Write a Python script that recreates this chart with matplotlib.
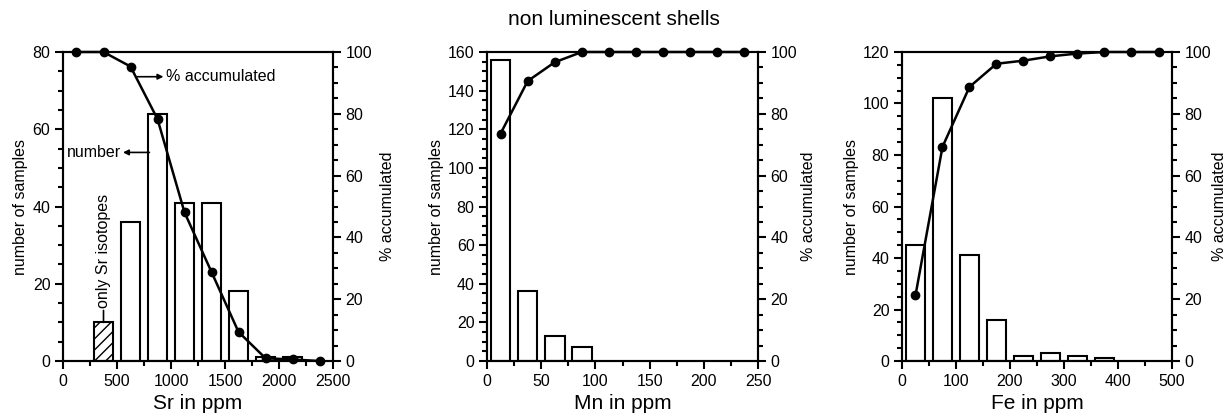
import matplotlib.pyplot as plt
from matplotlib.ticker import MultipleLocator

plt.rcParams['font.family'] = ['Liberation Sans', 'DejaVu Sans']

# Sr histogram (bins of 250 ppm)
sr_centers = [375, 625, 875, 1125, 1375, 1625, 1875, 2125]
sr_counts = [10, 36, 64, 41, 41, 18, 1, 1]
sr_cum_x = [125, 375, 625, 875, 1125, 1375, 1625, 1875, 2125, 2375]
sr_cum_pct = [100, 100, 95.3, 78.3, 48.1, 28.8, 9.4, 0.9, 0.5, 0]

# Mn histogram (bins of 25 ppm)
mn_centers = [12.5, 37.5, 62.5, 87.5]
mn_counts = [156, 36, 13, 7]
mn_cum_x = [12.5, 37.5, 62.5, 87.5, 112.5, 137.5, 162.5, 187.5, 212.5, 237.5]
mn_cum_pct = [73.6, 90.6, 96.7, 100, 100, 100, 100, 100, 100, 100]

# Fe histogram (bins of 50 ppm)
fe_centers = [25, 75, 125, 175, 225, 275, 325, 375]
fe_counts = [45, 102, 41, 16, 2, 3, 2, 1]
fe_cum_x = [25, 75, 125, 175, 225, 275, 325, 375, 425, 475]
fe_cum_pct = [21.2, 69.3, 88.7, 96.2, 97.2, 98.6, 99.5, 100, 100, 100]

fig = plt.figure(figsize=(12.28, 4.19), dpi=100)
fig.suptitle('non luminescent shells', fontsize=15, y=0.975)

panels = [
    dict(pos=[0.0513, 0.1384, 0.2199, 0.7375], centers=sr_centers, counts=sr_counts,
         cx=sr_cum_x, cp=sr_cum_pct, bin=250, xmax=2500, ymax=80, xlabel='Sr in ppm', rpad=6),
    dict(pos=[0.3966, 0.1384, 0.2207, 0.7375], centers=mn_centers, counts=mn_counts,
         cx=mn_cum_x, cp=mn_cum_pct, bin=25, xmax=250, ymax=160, xlabel='Mn in ppm', rpad=3),
    dict(pos=[0.7345, 0.1384, 0.2199, 0.7375], centers=fe_centers, counts=fe_counts,
         cx=fe_cum_x, cp=fe_cum_pct, bin=50, xmax=500, ymax=120, xlabel='Fe in ppm', rpad=0.5),
]

axes = []
for p in panels:
    ax = fig.add_axes(p['pos'])
    bars = ax.bar(p['centers'], p['counts'], width=p['bin'] * 0.72, color='white',
                  edgecolor='black', linewidth=1.5, zorder=2)
    ax.set_xlim(0, p['xmax'])
    ax.set_ylim(0, p['ymax'])
    ax.xaxis.set_major_locator(MultipleLocator(p['bin'] * 2))
    ax.xaxis.set_minor_locator(MultipleLocator(p['bin']))
    ax.yaxis.set_major_locator(MultipleLocator(20))
    ax.yaxis.set_minor_locator(MultipleLocator(5))
    ax.tick_params(which='both', direction='out', width=1.5, labelsize=11.5)
    ax.tick_params(which='major', length=6, pad=3)
    ax.tick_params(which='minor', length=3.5)
    ax.set_ylabel('number of samples', fontsize=11.5, labelpad=3)
    ax.set_xlabel(p['xlabel'], fontsize=15, labelpad=4)
    for s in ax.spines.values():
        s.set_linewidth(1.5)

    ax2 = ax.twinx()
    ax2.set_ylim(0, 100)
    ax2.yaxis.set_major_locator(MultipleLocator(20))
    ax2.yaxis.set_minor_locator(MultipleLocator(5))
    ax2.tick_params(which='both', direction='out', width=1.5, labelsize=11.5)
    ax2.tick_params(which='major', length=6, pad=3)
    ax2.tick_params(which='minor', length=3.5)
    ax2.set_ylabel('% accumulated', fontsize=11.5, labelpad=p['rpad'])
    ax2.plot(p['cx'], p['cp'], color='black', linewidth=1.8, marker='o',
             markersize=6, clip_on=False, zorder=3)
    for s in ax2.spines.values():
        s.set_linewidth(1.5)
    axes.append((ax, ax2, bars))

# extras on the Sr panel
ax, ax2, bars = axes[0]
bars[0].set_hatch('///')
ax.annotate('only Sr isotopes', xy=(375, 10), xytext=(375, 13.8), rotation=90,
            ha='center', va='bottom', fontsize=11.5,
            arrowprops=dict(arrowstyle='-', color='black', lw=1.2, shrinkA=0, shrinkB=0))
ax.annotate('', xy=(555, 54), xytext=(800, 54),
            arrowprops=dict(arrowstyle='-|>', color='black', lw=1.2,
                            mutation_scale=8, shrinkA=0, shrinkB=0))
ax.text(540, 54, 'number', ha='right', va='center', fontsize=11.5)
ax2.annotate('', xy=(930, 92), xytext=(690, 92),
             arrowprops=dict(arrowstyle='-|>', color='black', lw=1.2,
                             mutation_scale=8, shrinkA=0, shrinkB=0))
ax2.text(950, 92, '% accumulated', ha='left', va='center', fontsize=11.5)

fig.savefig('out.png', dpi=100)
